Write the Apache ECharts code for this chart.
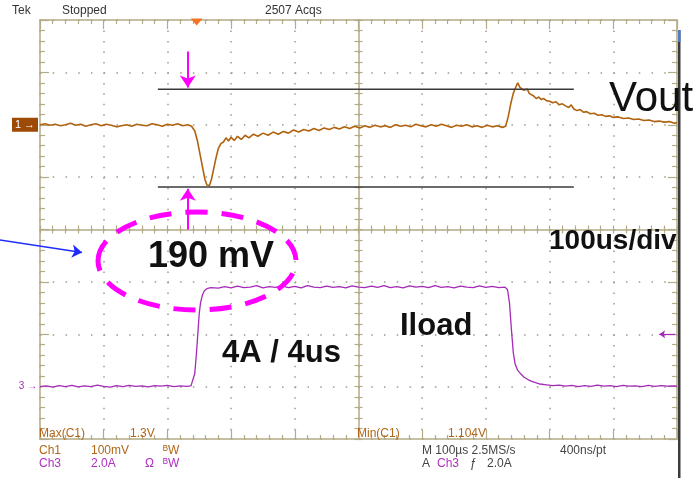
<!DOCTYPE html>
<html>
<head>
<meta charset="utf-8">
<script src="https://cdn.jsdelivr.net/npm/echarts@6/dist/echarts.min.js"></script>
<style>
  html, body { margin: 0; padding: 0; background: #ffffff; }
  #chart { width: 700px; height: 478px; }
</style>
</head>
<body>
<div id="chart"></div>
<script>
// ---- Data (time in µs, Vout deviation in mV, Iload in A) ----
var voutTime = [0,8,16,24,32,40,48,56,64,72,80,88,96,104,112,120,128,136,144,152,160,168,176,184,192,200,208,216,224,232,238,
  243,247,251,255,259,262,266,269,272,276,280,284,288,292,296,300,305,310,316,322,328,335,342,350,358,366,374,382,390,398,406,414,422,430,438,446,454,462,470,478,486,494,502,510,518,526,534,542,550,558,566,574,582,590,598,606,614,622,630,638,646,654,662,670,678,686,694,702,710,718,726,731,
  735,739,743,747,750,753,756,759,762,765,768,771,775,779,783,787,791,795,800,805,810,815,820,825,830,834,838,843,848,853,858,864,870,876,882,888,894,900,908,916,924,932,940,948,956,964,972,980,988,996,1000];
var voutMv = [0,2,-1,1,-2,0,3,-1,1,-3,0,2,-2,1,-1,-4,-2,0,-3,1,-1,-2,2,0,-3,1,-1,2,-2,0,-3,
  -12,-30,-55,-80,-105,-115,-116,-105,-88,-65,-45,-36,-33,-25,-31,-24,-30,-22,-28,-20,-25,-18,-22,-16,-20,-14,-18,-13,-16,-10,-14,-9,-12,-7,-11,-6,-9,-5,-8,-4,-7,-3,-6,-2,-5,-1,-4,-2,-5,0,-3,-1,-4,1,-2,-4,0,-3,1,-2,-5,-1,-3,0,-4,-2,-5,-1,-4,-2,-5,-3,
  15,40,60,72,80,72,74,66,63,68,60,62,55,50,53,48,50,46,45,42,44,38,40,36,33,38,30,27,29,24,25,21,22,18,19,16,17,14,15,12,13,10,11,8,9,6,7,5,6,3,4];

var iloadTime = [0,10,20,30,40,50,60,70,80,90,100,110,120,130,140,150,160,170,180,190,200,210,220,230,237,
  240,243,246,248,250,252,255,258,262,268,280,290,300,310,320,330,340,350,360,370,380,390,400,410,420,430,440,450,460,470,480,490,500,510,520,530,540,550,560,570,580,590,600,610,620,630,640,650,660,670,680,690,700,710,720,730,
  734,737,740,743,746,750,755,760,766,772,778,785,795,805,815,825,835,845,855,865,875,885,895,905,915,925,935,945,955,965,975,985,995,1000];
var iloadA = [0,0.03,-0.02,0.04,0,0.05,-0.01,0.03,0,0.06,0.01,-0.02,0.04,0,0.05,0.01,0.03,-0.01,0.04,0.02,0.05,0,0.03,0.01,0.03,
  0.1,0.5,1.4,2.1,2.8,3.2,3.5,3.66,3.74,3.78,3.76,3.82,3.77,3.84,3.78,3.8,3.86,3.77,3.82,3.79,3.85,3.78,3.83,3.77,3.86,3.8,3.78,3.84,3.79,3.82,3.77,3.85,3.8,3.78,3.84,3.79,3.86,3.78,3.82,3.77,3.85,3.8,3.83,3.78,3.86,3.79,3.82,3.77,3.84,3.8,3.78,3.85,3.79,3.83,3.78,3.8,
  3.7,3.2,2.2,1.3,0.85,0.62,0.48,0.36,0.27,0.2,0.15,0.1,0.07,0.04,0.06,0.02,0.05,0,0.04,0.01,0.06,0.02,0.04,0,0.05,0.02,0.03,0,0.05,0.01,0.04,0.02,0.03,0.02];

var cursorLevelsMv = [68, -119];      // horizontal cursors
var cursorSpanUs = [185, 838];
var arrowTimeUs = 232;                 // magenta arrows
var triggerTimeUs = 246;
var triggerLevelA = 2.0;

// axis settings (per division): time 100 µs/div, Ch1 100 mV/div, Ch3 2 A/div
var timeAxis = { min: 0, max: 1000, interval: 100 };
var ch1Axis = { min: -600, max: 200, interval: 100 };
var ch3Axis = { min: -2, max: 14, interval: 2 };

function pairs(xs, ys) { return xs.map(function (x, i) { return [x, ys[i]]; }); }

var frameColor = '#b3aa86';
var dotColor = '#9c9a8c';
var FONT = '"Liberation Sans", Arial, sans-serif';

function xAx(opts) {
  return Object.assign({
    type: 'value', min: timeAxis.min, max: timeAxis.max, interval: timeAxis.interval,
    axisLabel: { show: false },
    axisLine: { show: true, onZero: false, lineStyle: { color: frameColor, width: 1.5 } },
    axisTick: { show: true, inside: true, length: 9, lineStyle: { color: frameColor, width: 1.2 } },
    minorTick: { show: true, splitNumber: 5, length: 4, lineStyle: { color: frameColor, width: 1.2 } },
    splitLine: { show: false }
  }, opts);
}
function yAx(opts) {
  return Object.assign({
    type: 'value', min: ch1Axis.min, max: ch1Axis.max, interval: ch1Axis.interval,
    axisLabel: { show: false },
    axisLine: { show: true, onZero: false, lineStyle: { color: frameColor, width: 1.5 } },
    axisTick: { show: true, inside: true, length: 9, lineStyle: { color: frameColor, width: 1.2 } },
    minorTick: { show: true, splitNumber: 5, length: 5, lineStyle: { color: frameColor, width: 1.2 } },
    splitLine: { show: false }
  }, opts);
}

var chart = echarts.init(document.getElementById('chart'), null, { renderer: 'canvas' });

var gridLeft = 40, gridTop = 20, gridW = 637, gridH = 419;

var option = {
  animation: false,
  backgroundColor: '#ffffff',
  grid: { left: gridLeft, top: gridTop, width: gridW, height: gridH, containLabel: false },
  xAxis: [
    xAx({ position: 'bottom',
      splitLine: { show: true, lineStyle: { color: dotColor, width: 1.5, type: [1.5, 8.98] } } }),
    xAx({ position: 'top' }),
    xAx({ position: 'bottom', offset: -gridH / 2,
      axisTick: { show: true, inside: true, length: 4, lineStyle: { color: frameColor, width: 1.2 } } }),
    xAx({ position: 'bottom', offset: -gridH / 2, axisLine: { show: false },
      axisTick: { show: true, inside: false, length: 4, lineStyle: { color: frameColor, width: 1.2 } },
      minorTick: { show: true, splitNumber: 5, length: 4, lineStyle: { color: frameColor, width: 1.2 } } })
  ],
  yAxis: [
    yAx({ position: 'left',
      splitLine: { show: true, lineStyle: { color: dotColor, width: 1.5, type: [1.5, 11.24] } } }),
    yAx({ position: 'right' }),
    yAx({ position: 'left', offset: -gridW / 2,
      axisTick: { show: true, inside: true, length: 4, lineStyle: { color: frameColor, width: 1.2 } },
      minorTick: { show: true, splitNumber: 5, length: 4, lineStyle: { color: frameColor, width: 1.2 } } }),
    yAx({ position: 'left', offset: -gridW / 2, axisLine: { show: false },
      axisTick: { show: true, inside: false, length: 4, lineStyle: { color: frameColor, width: 1.2 } },
      minorTick: { show: true, splitNumber: 5, length: 4, lineStyle: { color: frameColor, width: 1.2 } } }),
    { type: 'value', min: ch3Axis.min, max: ch3Axis.max, interval: ch3Axis.interval, show: false }
  ],
  series: [
    {
      name: 'Iload', type: 'line', xAxisIndex: 0, yAxisIndex: 4,
      data: pairs(iloadTime, iloadA), showSymbol: false, symbol: 'none', clip: false,
      lineStyle: { color: '#a52ab8', width: 1.3 }, z: 3,
      markPoint: {
        silent: true,
        data: [
          { coord: [timeAxis.min, 0], symbol: 'rect', symbolSize: 1, symbolOffset: [-12, 0],
            itemStyle: { color: 'rgba(0,0,0,0)' },
            label: { show: true, formatter: '3 →', color: '#a52ab8', fontSize: 10, fontFamily: FONT } }
        ]
      }
    },
    {
      name: 'Vout', type: 'line', xAxisIndex: 0, yAxisIndex: 0,
      data: pairs(voutTime, voutMv), showSymbol: false, symbol: 'none', clip: false,
      lineStyle: { color: '#b0620e', width: 1.6 }, z: 4,
      markPoint: {
        silent: true,
        data: [
          { coord: [timeAxis.min, 0], symbol: 'rect', symbolSize: [26, 14], symbolOffset: [-15, 0],
            itemStyle: { color: '#9c4a06' },
            label: { show: true, formatter: '1 →', color: '#ffffff', fontSize: 11, fontFamily: FONT } },
          { coord: [triggerTimeUs, ch1Axis.max], symbol: 'triangle', symbolRotate: 180, symbolSize: [12, 7],
            symbolOffset: [0, 2], itemStyle: { color: '#f07424' }, label: { show: false } }
        ]
      }
    },
    {
      name: 'cursorTop', type: 'line', xAxisIndex: 0, yAxisIndex: 0, showSymbol: false, symbol: 'none',
      data: [[cursorSpanUs[0], cursorLevelsMv[0]], [cursorSpanUs[1], cursorLevelsMv[0]]],
      lineStyle: { color: '#3a3a3a', width: 1.5 }, z: 5
    },
    {
      name: 'cursorBottom', type: 'line', xAxisIndex: 0, yAxisIndex: 0, showSymbol: false, symbol: 'none',
      data: [[cursorSpanUs[0], cursorLevelsMv[1]], [cursorSpanUs[1], cursorLevelsMv[1]]],
      lineStyle: { color: '#3a3a3a', width: 1.5 }, z: 5
    },
    {
      name: 'arrows', type: 'lines', coordinateSystem: 'cartesian2d', xAxisIndex: 0, yAxisIndex: 0,
      clip: false, polyline: false, silent: true,
      symbol: ['none', 'arrow'], symbolSize: 12,
      lineStyle: { color: '#ff00ff', width: 2, opacity: 1, curveness: 0 },
      data: [
        { coords: [[arrowTimeUs, 140], [arrowTimeUs, cursorLevelsMv[0] + 3]] },
        { coords: [[arrowTimeUs, -200], [arrowTimeUs, cursorLevelsMv[1] - 3]] }
      ], z: 6
    },
    {
      name: 'pointer', type: 'lines', coordinateSystem: 'cartesian2d', xAxisIndex: 0, yAxisIndex: 0,
      clip: false, silent: true, symbol: ['none', 'arrow'], symbolSize: 10,
      lineStyle: { color: '#1f2cff', width: 1.5, opacity: 1, curveness: 0 },
      data: [{ coords: [[-64, -220], [66, -244]] }], z: 6
    },
    {
      name: 'trigLevel', type: 'lines', coordinateSystem: 'cartesian2d', xAxisIndex: 0, yAxisIndex: 4,
      clip: false, silent: true, symbol: ['none', 'arrow'], symbolSize: 6,
      lineStyle: { color: '#a52ab8', width: 1.2, opacity: 1, curveness: 0 },
      data: [{ coords: [[997, triggerLevelA], [972, triggerLevelA]] }], z: 6
    }
  ],
  graphic: [
    { type: 'rect', shape: { x: 678, y: 30, width: 2.5, height: 448 }, style: { fill: '#3b3b3b' }, z: 1 },
    { type: 'rect', shape: { x: 678, y: 30, width: 2.5, height: 12 }, style: { fill: '#4f7cc4' }, z: 1 },
    { type: 'ellipse', shape: { cx: 197, cy: 261, rx: 99, ry: 49 },
      style: { fill: 'none', stroke: '#ff00ff', lineWidth: 5, lineDash: [22, 14] }, z: 20 },
    // header
    { type: 'text', x: 12, y: 11, style: { text: 'Tek', font: '12px ' + FONT, fill: '#333', textVerticalAlign: 'middle' }, z: 20 },
    { type: 'text', x: 62, y: 11, style: { text: 'Stopped', font: '12px ' + FONT, fill: '#333', textVerticalAlign: 'middle' }, z: 20 },
    { type: 'text', x: 265, y: 11, style: { text: '2507 Acqs', font: '12px ' + FONT, fill: '#333', textVerticalAlign: 'middle' }, z: 20 },
    // annotations
    { type: 'text', x: 609, y: 99, style: { text: 'Vout', font: '42px ' + FONT, fill: '#111', textVerticalAlign: 'middle' }, z: 20 },
    { type: 'text', x: 148, y: 257, style: { text: '190 mV', font: 'bold 36px ' + FONT, fill: '#111', textVerticalAlign: 'middle' }, z: 20 },
    { type: 'text', x: 549, y: 241, style: { text: '100us/div', font: 'bold 28px ' + FONT, fill: '#111', textVerticalAlign: 'middle' }, z: 20 },
    { type: 'text', x: 400, y: 326, style: { text: 'Iload', font: 'bold 31px ' + FONT, fill: '#111', textVerticalAlign: 'middle' }, z: 20 },
    { type: 'text', x: 222, y: 353, style: { text: '4A / 4us', font: 'bold 31px ' + FONT, fill: '#111', textVerticalAlign: 'middle' }, z: 20 },
    // footer (inside grid bottom)
    { type: 'text', x: 39, y: 434, style: { text: 'Max(C1)', font: '12px ' + FONT, fill: '#b0661a', textVerticalAlign: 'middle' }, z: 20 },
    { type: 'text', x: 130, y: 434, style: { text: '1.3V', font: '12px ' + FONT, fill: '#b0661a', textVerticalAlign: 'middle' }, z: 20 },
    { type: 'text', x: 357, y: 434, style: { text: 'Min(C1)', font: '12px ' + FONT, fill: '#b0661a', textVerticalAlign: 'middle' }, z: 20 },
    { type: 'text', x: 448, y: 434, style: { text: '1.104V', font: '12px ' + FONT, fill: '#b0661a', textVerticalAlign: 'middle' }, z: 20 },
    // footer below
    { type: 'text', x: 39, y: 451, style: { text: 'Ch1', font: '12px ' + FONT, fill: '#b0661a', textVerticalAlign: 'middle' }, z: 20 },
    { type: 'text', x: 91, y: 451, style: { text: '100mV', font: '12px ' + FONT, fill: '#b0661a', textVerticalAlign: 'middle' }, z: 20 },
    { type: 'text', x: 163, y: 451, style: { text: 'ᴮW', font: '12px ' + FONT, fill: '#b0661a', textVerticalAlign: 'middle' }, z: 20 },
    { type: 'text', x: 39, y: 464, style: { text: 'Ch3', font: '12px ' + FONT, fill: '#b030c0', textVerticalAlign: 'middle' }, z: 20 },
    { type: 'text', x: 91, y: 464, style: { text: '2.0A', font: '12px ' + FONT, fill: '#b030c0', textVerticalAlign: 'middle' }, z: 20 },
    { type: 'text', x: 145, y: 464, style: { text: 'Ω', font: '12px ' + FONT, fill: '#b030c0', textVerticalAlign: 'middle' }, z: 20 },
    { type: 'text', x: 163, y: 464, style: { text: 'ᴮW', font: '12px ' + FONT, fill: '#b030c0', textVerticalAlign: 'middle' }, z: 20 },
    { type: 'text', x: 422, y: 451, style: { text: 'M 100µs 2.5MS/s', font: '12px ' + FONT, fill: '#444', textVerticalAlign: 'middle' }, z: 20 },
    { type: 'text', x: 560, y: 451, style: { text: '400ns/pt', font: '12px ' + FONT, fill: '#444', textVerticalAlign: 'middle' }, z: 20 },
    { type: 'text', x: 422, y: 464, style: { text: 'A', font: '12px ' + FONT, fill: '#444', textVerticalAlign: 'middle' }, z: 20 },
    { type: 'text', x: 437, y: 464, style: { text: 'Ch3', font: '12px ' + FONT, fill: '#b030c0', textVerticalAlign: 'middle' }, z: 20 },
    { type: 'text', x: 470, y: 464, style: { text: 'ƒ', font: '12px ' + FONT, fill: '#444', textVerticalAlign: 'middle' }, z: 20 },
    { type: 'text', x: 487, y: 464, style: { text: '2.0A', font: '12px ' + FONT, fill: '#444', textVerticalAlign: 'middle' }, z: 20 }
  ]
};

chart.setOption(option);
</script>
</body>
</html>
